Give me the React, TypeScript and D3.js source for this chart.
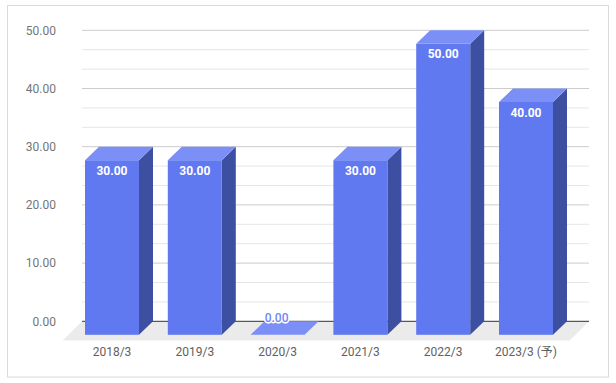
import React from "react";
import * as d3 from "d3";

const categories = ["2018/3", "2019/3", "2020/3", "2021/3", "2022/3", "2023/3 (予)"];
const values = [30, 30, 0, 30, 50, 40];
const yTicks = [0, 10, 20, 30, 40, 50];

const W = 616;
const H = 383;
const DX = 14;
const DY = 13.5;
const FONT = "Roboto, 'Noto Sans CJK JP', sans-serif";

export default function App() {
  // back-plane value scale
  const y = d3.scaleLinear().domain([0, 50]).range([321.3, 30.3]);
  // front-face band scale
  const x = d3
    .scaleBand<string>()
    .domain(categories)
    .range([70.6, 567.4])
    .paddingInner(0.3478)
    .paddingOuter(0.1739);
  const bw = x.bandwidth();
  const gridLeft = 82;
  const gridRight = 589;
  const minorTicks: number[] = [];
  for (let i = 0; i < yTicks.length - 1; i++) {
    const a = yTicks[i];
    const b = yTicks[i + 1];
    minorTicks.push(a + (b - a) / 3, a + (2 * (b - a)) / 3);
  }
  const floorDepth = 19.3;
  const y0 = y(0);

  return (
    <svg
      width={W}
      height={H}
      style={{ position: "absolute", left: 0, top: 0, background: "#fff" }}
      fontFamily={FONT}
    >
      <rect x={7.5} y={5.5} width={601} height={371.5} fill="#fff" stroke="#d9d9d9" />
      {minorTicks.map((t, i) => (
        <line key={"m" + i} x1={gridLeft} x2={gridRight} y1={y(t)} y2={y(t)} stroke="#e6e6e6" />
      ))}
      {yTicks.slice(1).map((t) => (
        <line key={"g" + t} x1={gridLeft} x2={gridRight} y1={y(t)} y2={y(t)} stroke="#cccccc" />
      ))}
      {yTicks.map((t) => (
        <text
          key={"yl" + t}
          x={56}
          y={y(t)}
          dy="0.35em"
          textAnchor="end"
          fontSize={12}
          fill="#757575"
        >
          {d3.format(".2f")(t)}
        </text>
      ))}
      {/* floor */}
      <path
        d={`M${gridLeft},${y0} L${gridRight},${y0} L${gridRight - floorDepth},${y0 + floorDepth} L${gridLeft - floorDepth},${y0 + floorDepth} Z`}
        fill="#ebebeb"
      />
      <line x1={gridLeft} x2={gridRight} y1={y0} y2={y0} stroke="#333" />
      {categories.map((c, i) => {
        const v = values[i];
        const fx = x(c)!;
        const fTop = y(v) + DY;
        const fBot = y0 + DY;
        const h = fBot - fTop;
        const top = `M${fx},${fTop} L${fx + DX},${fTop - DY} L${fx + bw + DX},${fTop - DY} L${fx + bw},${fTop} Z`;
        const side = `M${fx + bw},${fTop} L${fx + bw + DX},${fTop - DY} L${fx + bw + DX},${fBot - DY} L${fx + bw},${fBot} Z`;
        return (
          <g key={c}>
            {h > 0.5 && <path d={side} fill="#3c4fa0" />}
            {h > 0.5 && <rect x={fx} y={fTop} width={bw} height={h} fill="#6079f1" />}
            <path d={top} fill="#7b8ff6" />
          </g>
        );
      })}
      {categories.map((c, i) => {
        const v = values[i];
        const fx = x(c)!;
        const fTop = y(v) + DY;
        const cx = fx + bw / 2;
        const label = d3.format(".2f")(v);
        if (v === 0) {
          return (
            <text
              key={"v" + c}
              x={cx - 1}
              y={fTop - 13}
              textAnchor="middle"
              fontSize={12}
              fontWeight={500}
              fill="#6f86f5"
              stroke="#fff"
              strokeWidth={3}
              paintOrder="stroke"
              strokeLinejoin="round"
            >
              {label}
            </text>
          );
        }
        return (
          <text
            key={"v" + c}
            x={cx}
            y={fTop + 14.5}
            textAnchor="middle"
            fontSize={12}
            fontWeight={700}
            fill="#fff"
          >
            {label}
          </text>
        );
      })}
      {categories.map((c) => (
        <text
          key={"xl" + c}
          x={x(c)! + bw / 2}
          y={356}
          textAnchor="middle"
          fontSize={12}
          fill="#616161"
        >
          {c}
        </text>
      ))}
    </svg>
  );
}
